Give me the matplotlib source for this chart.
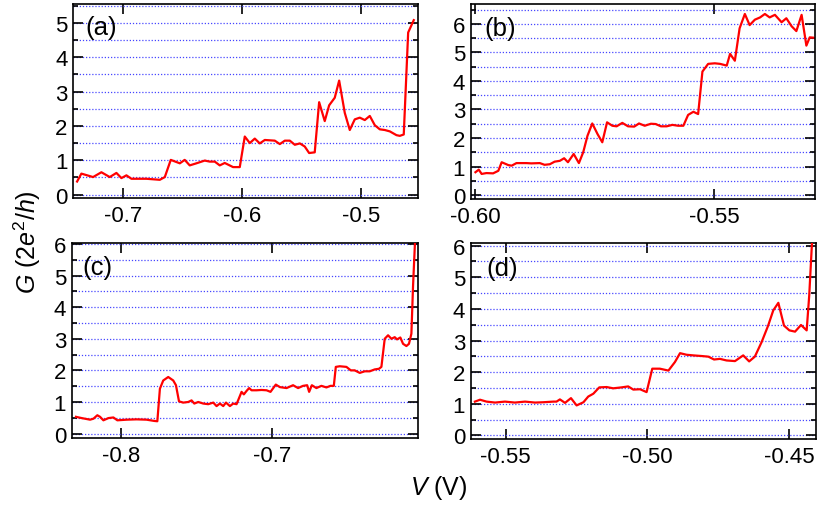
import matplotlib
matplotlib.use("Agg")
import matplotlib.pyplot as plt
from matplotlib.ticker import MultipleLocator, FormatStrFormatter

plt.rcParams['font.family'] = ['Liberation Sans', 'DejaVu Sans']
plt.rcParams['mathtext.fontset'] = 'custom'
plt.rcParams['mathtext.rm'] = 'Liberation Sans'
plt.rcParams['mathtext.it'] = 'Liberation Sans:italic'

# ---- conductance traces G (2e^2/h) versus gate voltage V (V) ----
va = [-0.7386, -0.7350, -0.7252, -0.7182, -0.7112, -0.7056, -0.7014, -0.6972,
      -0.6930, -0.6804, -0.6692, -0.6650, -0.6600, -0.6524, -0.6483, -0.6441,
      -0.6385, -0.6315, -0.6273, -0.6231, -0.6189, -0.6147, -0.6077, -0.6021,
      -0.5979, -0.5937, -0.5895, -0.5853, -0.5811, -0.5727, -0.5685, -0.5643,
      -0.5601, -0.5559, -0.5517, -0.5476, -0.5439, -0.5392, -0.5355, -0.5308,
      -0.5271, -0.5224, -0.5187, -0.5140, -0.5098, -0.5056, -0.5014, -0.4972,
      -0.4930, -0.4888, -0.4846, -0.4804, -0.4762, -0.4706, -0.4678, -0.4645,
      -0.4608, -0.4561]
ga = [0.38, 0.61, 0.51, 0.65, 0.51, 0.63, 0.48, 0.56,
      0.46, 0.46, 0.43, 0.51, 1.01, 0.91, 1.01, 0.85,
      0.91, 0.99, 0.96, 0.96, 0.85, 0.92, 0.80, 0.80,
      1.69, 1.50, 1.63, 1.49, 1.59, 1.57, 1.47, 1.57,
      1.57, 1.45, 1.49, 1.40, 1.21, 1.23, 2.69, 2.14,
      2.60, 2.82, 3.32, 2.38, 1.88, 2.19, 2.24, 2.17,
      2.29, 2.02, 1.90, 1.88, 1.84, 1.73, 1.71, 1.75,
      4.72, 5.08]

vb = [-0.6000, -0.5993, -0.5987, -0.5977, -0.5963, -0.5952, -0.5945, -0.5931,
      -0.5924, -0.5914, -0.5893, -0.5883, -0.5865, -0.5855, -0.5844, -0.5834,
      -0.5823, -0.5814, -0.5806, -0.5794, -0.5783, -0.5774, -0.5765, -0.5755,
      -0.5744, -0.5734, -0.5724, -0.5713, -0.5704, -0.5692, -0.5680, -0.5667,
      -0.5657, -0.5645, -0.5632, -0.5622, -0.5611, -0.5599, -0.5587, -0.5575,
      -0.5564, -0.5554, -0.5543, -0.5533, -0.5524, -0.5512, -0.5498, -0.5487,
      -0.5473, -0.5466, -0.5456, -0.5446, -0.5435, -0.5425, -0.5414, -0.5403,
      -0.5393, -0.5383, -0.5372, -0.5358, -0.5348, -0.5337, -0.5327, -0.5316,
      -0.5306, -0.5299, -0.5292]
gb = [0.80, 0.89, 0.74, 0.77, 0.76, 0.85, 1.15, 1.05,
      1.03, 1.12, 1.12, 1.11, 1.12, 1.06, 1.08, 1.17,
      1.20, 1.29, 1.15, 1.44, 1.12, 1.50, 2.08, 2.51,
      2.14, 1.85, 2.55, 2.43, 2.41, 2.53, 2.41, 2.40,
      2.51, 2.43, 2.50, 2.49, 2.41, 2.41, 2.46, 2.43,
      2.43, 2.81, 2.92, 2.84, 4.33, 4.60, 4.62, 4.60,
      4.54, 4.95, 4.71, 5.85, 6.35, 5.96, 6.15, 6.23,
      6.35, 6.23, 6.32, 6.06, 6.20, 5.92, 5.75, 6.32,
      5.24, 5.53, 5.52]

vc = [-0.8295, -0.8257, -0.8202, -0.8180, -0.8154, -0.8136, -0.8114, -0.8081,
      -0.8048, -0.8022, -0.7960, -0.7895, -0.7829, -0.7778, -0.7758, -0.7741,
      -0.7719, -0.7686, -0.7653, -0.7635, -0.7615, -0.7587, -0.7554, -0.7532,
      -0.7514, -0.7488, -0.7455, -0.7422, -0.7389, -0.7367, -0.7345, -0.7323,
      -0.7305, -0.7279, -0.7257, -0.7235, -0.7202, -0.7187, -0.7169, -0.7152,
      -0.7136, -0.7103, -0.7070, -0.7037, -0.7011, -0.6976, -0.6949, -0.6905,
      -0.6862, -0.6829, -0.6796, -0.6769, -0.6756, -0.6738, -0.6708, -0.6675,
      -0.6642, -0.6615, -0.6593, -0.6580, -0.6554, -0.6510, -0.6481, -0.6455,
      -0.6422, -0.6389, -0.6356, -0.6323, -0.6295, -0.6279, -0.6257, -0.6235,
      -0.6213, -0.6191, -0.6176, -0.6154, -0.6136, -0.6114, -0.6097, -0.6081,
      -0.6070, -0.6055]
gc = [0.53, 0.49, 0.44, 0.47, 0.58, 0.53, 0.42, 0.49,
      0.51, 0.42, 0.44, 0.45, 0.44, 0.40, 0.39, 1.42,
      1.68, 1.79, 1.68, 1.53, 1.02, 0.98, 1.00, 1.05,
      0.95, 1.00, 0.95, 0.93, 0.98, 0.87, 0.95, 0.87,
      0.98, 0.87, 0.95, 0.93, 1.32, 1.24, 1.35, 1.44,
      1.37, 1.37, 1.38, 1.37, 1.32, 1.55, 1.47, 1.44,
      1.53, 1.44, 1.51, 1.53, 1.32, 1.53, 1.44, 1.51,
      1.46, 1.51, 1.51, 2.11, 2.13, 2.11, 2.00, 2.00,
      1.92, 1.97, 1.97, 2.03, 2.05, 2.11, 3.00, 3.11,
      3.00, 3.05, 2.98, 3.04, 2.84, 2.77, 2.84, 3.16,
      4.68, 6.30]

vd = [-0.5609, -0.5591, -0.5568, -0.5538, -0.5503, -0.5468, -0.5432, -0.5397,
      -0.5368, -0.5332, -0.5321, -0.5309, -0.5291, -0.5270, -0.5250, -0.5226,
      -0.5209, -0.5191, -0.5170, -0.5144, -0.5121, -0.5091, -0.5068, -0.5050,
      -0.5026, -0.5003, -0.4983, -0.4956, -0.4926, -0.4903, -0.4885, -0.4862,
      -0.4838, -0.4809, -0.4785, -0.4765, -0.4744, -0.4721, -0.4691, -0.4662,
      -0.4641, -0.4621, -0.4597, -0.4574, -0.4556, -0.4538, -0.4518, -0.4499,
      -0.4479, -0.4458, -0.4438, -0.4429, -0.4418]
gd = [1.07, 1.13, 1.07, 1.04, 1.07, 1.04, 1.07, 1.04,
      1.05, 1.07, 1.07, 1.14, 1.03, 1.18, 0.95, 1.05,
      1.23, 1.32, 1.52, 1.53, 1.49, 1.52, 1.55, 1.45,
      1.46, 1.37, 2.11, 2.11, 2.05, 2.32, 2.60, 2.55,
      2.53, 2.51, 2.49, 2.40, 2.42, 2.37, 2.35, 2.53,
      2.34, 2.49, 2.95, 3.47, 3.95, 4.19, 3.47, 3.32,
      3.28, 3.49, 3.32, 4.42, 6.30]

panel_tags = ['(a)', '(b)', '(c)', '(d)']
xlims = [(-0.742, -0.4525), (-0.601, -0.5288), (-0.8323, -0.6037), (-0.5624, -0.4405)]
ylims = [(-0.1, 5.55), (-0.14, 6.70), (-0.14, 6.03), (-0.11, 6.08)]
xsteps = [0.1, 0.05, 0.1, 0.05]
xfmts = ['%.1f', '%.2f', '%.1f', '%.2f']
rects = [(0.0894, 0.6098, 0.4223, 0.3804),
         (0.5761, 0.6078, 0.4214, 0.3824),
         (0.0878, 0.1392, 0.4239, 0.3824),
         (0.5761, 0.1373, 0.4227, 0.3843)]
tag_pos = [(0.037, 0.88), (0.040, 0.877), (0.030, 0.877), (0.045, 0.872)]
traces = [(va, ga), (vb, gb), (vc, gc), (vd, gd)]

fig = plt.figure(figsize=(8.17, 5.10), dpi=100)

for i in range(4):
    ax = fig.add_axes(rects[i])
    v, g = traces[i]
    ax.plot(v, g, color='#ff0000', lw=1.6, zorder=3, solid_joinstyle='round')
    ax.set_xlim(*xlims[i])
    ax.set_ylim(*ylims[i])
    ax.xaxis.set_major_locator(MultipleLocator(xsteps[i]))
    ax.xaxis.set_major_formatter(FormatStrFormatter(xfmts[i]))
    ax.yaxis.set_major_locator(MultipleLocator(1))
    ax.yaxis.set_minor_locator(MultipleLocator(0.5))
    ax.grid(True, which='both', axis='y', color='#4646ff', ls=(0, (1, 1.5)),
            lw=0.9, zorder=1)
    ax.tick_params(which='both', direction='in', top=True, right=True,
                   labelsize=16, width=1.2, colors='black')
    ax.tick_params(which='major', length=7)
    ax.tick_params(which='minor', length=3.5)
    ax.tick_params(axis='x', pad=5)
    ax.tick_params(axis='y', pad=4)
    for s in ax.spines.values():
        s.set_linewidth(1.2)
    ax.text(tag_pos[i][0], tag_pos[i][1], panel_tags[i], transform=ax.transAxes,
            fontsize=18.5, ha='left', va='center', zorder=4)

fig.text(0.034, 0.525, r'$G$ (2$e^2$/$h$)', rotation=90, fontsize=18,
         ha='center', va='center')
fig.text(0.537, 0.043, r'$V$ (V)', fontsize=18, ha='center', va='center')

fig.savefig('out.png', dpi=100)
